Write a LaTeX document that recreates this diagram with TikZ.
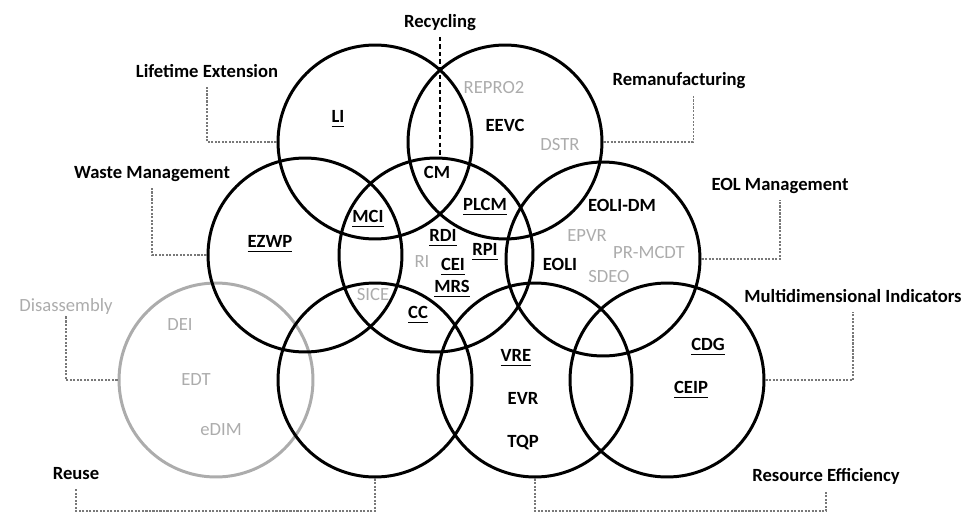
\documentclass[tikz,border=0pt]{standalone}
\usepackage{fontspec}
\setmainfont{Carlito}
\usepackage{xcolor}
\usepackage{tikz}

\definecolor{softgray}{RGB}{172,172,172}
\definecolor{leadgray}{RGB}{120,120,120}
\newcommand{\ulbf}[1]{\setbox0\hbox{\bfseries #1}\rlap{\rule[-2.6pt]{\wd0}{0.8pt}}\box0}

\begin{document}
\begin{tikzpicture}[x=0.02cm, y=-0.02cm,
    every node/.style={font=\fontsize{10.6}{12}\selectfont, text height=0.644em, text depth=0pt},
    ring/.style={circle, draw, line width=1.7pt, minimum size=3.88cm, inner sep=0pt},
    heading/.style={font=\fontsize{10.6}{12}\selectfont\bfseries, inner sep=5pt},
    term/.style={inner sep=1pt},
    leader/.style={draw=leadgray, line width=0.6pt, dash pattern=on 1.2pt off 0.8pt}]
    \useasboundingbox (0,0) rectangle (973,514);

    % Draw the gray circle first, the black ones over it
    \node[ring, draw=softgray] (ds) at (216,380) {};
    \foreach \name/\x/\y in {le/375/142, rm/505/142, wm/305/255, rc/436/255, eol/603/259,
                             ru/375/380, re/535/380, mi/667/380} {
        \node[ring] (\name) at (\x,\y) {};
    }

    % Group titles
    \node[heading] (recycling) at (440,22) {Recycling};
    \node[heading] (lifetime) at (207,72) {Lifetime Extension};
    \node[heading] (waste) at (152,173) {Waste Management};
    \node[heading] (remanuf) at (679,80) {Remanufacturing};
    \node[heading] (eolm) at (780,185) {EOL Management};
    \node[heading] (multi) at (853,297) {Multidimensional Indicators};
    \node[heading] (reseff) at (826,476) {Resource Efficiency};
    \node[heading] (reuse) at (76,474) {Reuse};
    \node[heading, font=\fontsize{10.6}{12}\selectfont, text=softgray, inner sep=2pt] (disas) at (66,306) {Disassembly};

    % Leaders from circles to titles
    \coordinate (base) at (0,511);
    \draw[line width=0.8pt, dash pattern=on 2.5pt off 1.8pt] (recycling.south) -- (recycling.south |- rc.north);
    \draw[leader] (le.west) -| (lifetime.south);
    \draw[leader] (wm.west) -| (waste.south);
    \draw[leader] (rm.east) -| ([xshift=8pt]remanuf.south);
    \draw[leader] (eol.east) -| (eolm.south);
    \draw[leader] (mi.east) -| (multi.south);
    \draw[leader] (ds.west) -| (disas.south);
    \draw[leader] (ru.south) -- (ru.south |- base) -| (reuse.south);
    \draw[leader] (re.south) -- (re.south |- base) -| (reseff.south);

    % Indicators inside the circles
    \foreach \name/\x/\y in {LI/338/117, MCI/368/217, PLCM/485/205, EZWP/270/242, RDI/443/236,
                             CEI/453/265, RPI/485/250, MRS/452/287, CC/418/313, VRE/516/356,
                             CDG/708/345, CEIP/691/388} {
        \node[term] (t\name) at (\x,\y) {\ulbf{\name}};
    }
    \foreach \name/\x/\y in {EEVC/505/126, CM/437/173, EOLI-DM/622/206, EOLI/560/265,
                             EVR/523/399, TQP/523/442} {
        \node[term, font=\fontsize{10.6}{12}\selectfont\bfseries] (t\name) at (\x,\y) {\name};
    }
    \foreach \name/\x/\y in {REPRO2/494/88, DSTR/560/145, RI/422/262, SICE/373/295, EPVR/587/236,
                             PR-MCDT/649/253, SDEO/609/277, DEI/180/325, EDT/196/380, eDIM/221/430} {
        \node[term, text=softgray] (t\name) at (\x,\y) {\name};
    }
\end{tikzpicture}
\end{document}
